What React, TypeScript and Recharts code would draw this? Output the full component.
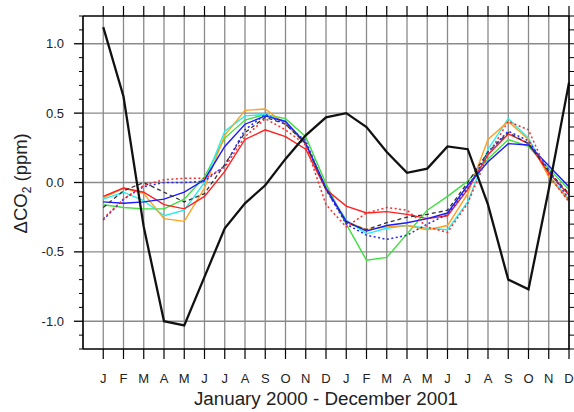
import { CartesianGrid, Line, LineChart, ReferenceLine, XAxis, YAxis } from "recharts";

const MONTHS = ["J", "F", "M", "A", "M", "J", "J", "A", "S", "O", "N", "D", "J", "F", "M", "A", "M", "J", "J", "A", "S", "O", "N", "D"];

const blackThick = [1.12, 0.62, -0.32, -1.0, -1.03, -0.68, -0.33, -0.15, -0.02, 0.17, 0.34, 0.47, 0.5, 0.4, 0.22, 0.07, 0.1, 0.26, 0.24, -0.16, -0.7, -0.77, -0.05, 0.72];
const red = [-0.1, -0.04, -0.07, -0.16, -0.19, -0.1, 0.08, 0.31, 0.38, 0.33, 0.24, -0.05, -0.17, -0.22, -0.21, -0.23, -0.26, -0.24, -0.05, 0.2, 0.35, 0.28, 0.07, -0.09];
const orange = [-0.11, -0.04, -0.08, -0.26, -0.28, -0.04, 0.34, 0.52, 0.53, 0.42, 0.28, -0.04, -0.28, -0.34, -0.32, -0.31, -0.34, -0.31, -0.08, 0.31, 0.44, 0.31, 0.04, -0.13];
const cyan = [-0.12, -0.07, -0.13, -0.24, -0.2, 0.0, 0.37, 0.48, 0.49, 0.44, 0.28, -0.04, -0.27, -0.37, -0.33, -0.31, -0.33, -0.34, -0.14, 0.24, 0.46, 0.32, 0.05, -0.12];
const green = [-0.16, -0.18, -0.19, -0.19, -0.12, 0.04, 0.32, 0.45, 0.49, 0.46, 0.33, -0.01, -0.3, -0.56, -0.54, -0.37, -0.2, -0.1, 0.01, 0.17, 0.31, 0.26, 0.1, -0.05];
const blue = [-0.14, -0.15, -0.14, -0.12, -0.07, 0.02, 0.26, 0.42, 0.48, 0.44, 0.28, -0.04, -0.28, -0.35, -0.31, -0.29, -0.26, -0.22, -0.02, 0.15, 0.28, 0.27, 0.12, -0.03];
const blackDashed = [-0.18, -0.06, 0.0, -0.07, -0.14, -0.08, 0.13, 0.36, 0.47, 0.42, 0.28, -0.05, -0.29, -0.34, -0.29, -0.25, -0.23, -0.2, 0.0, 0.22, 0.36, 0.28, 0.08, -0.08];
const redDotted = [-0.26, -0.12, -0.02, 0.02, 0.03, 0.03, 0.11, 0.33, 0.46, 0.38, 0.27, -0.16, -0.32, -0.22, -0.18, -0.2, -0.32, -0.36, -0.15, 0.2, 0.44, 0.38, 0.05, -0.14];
const blueDashed = [-0.27, -0.12, -0.03, 0.0, 0.0, 0.01, 0.12, 0.38, 0.49, 0.42, 0.3, -0.05, -0.3, -0.38, -0.41, -0.38, -0.3, -0.23, -0.04, 0.22, 0.37, 0.3, 0.09, -0.12];

const yMajor = [-1.0, -0.5, 0.0, 0.5, 1.0];
const yLabels: Record<string, string> = { "-1": "-1.0", "-0.5": "-0.5", "0": "0.0", "0.5": "0.5", "1": "1.0" };
const yMinorTicks = Array.from({ length: 25 }, (_, i) => Math.round((i - 12)) / 10);
const monthTicks = MONTHS.map((_, i) => i);

const data = MONTHS.map((_, i) => ({
  m: i,
  blackThick: blackThick[i],
  red: red[i],
  orange: orange[i],
  cyan: cyan[i],
  green: green[i],
  blue: blue[i],
  blackDashed: blackDashed[i],
  redDotted: redDotted[i],
  blueDashed: blueDashed[i],
}));

const FONT = "'Liberation Sans', Arial, Helvetica, sans-serif";

const isMajor = (v: number) => Math.abs(v * 2 - Math.round(v * 2)) < 1e-6;

function LeftTick(props: any) {
  const { x, y, payload } = props;
  const v = payload.value as number;
  if (isMajor(v)) {
    return (
      <g>
        <line x1={x - 9} x2={x} y1={y} y2={y} stroke="#000" strokeWidth={1.3} />
        <text x={x - 19} y={y} dy="0.355em" textAnchor="end" fontSize={13} fontFamily={FONT} fill="#222">
          {yLabels[String(v)]}
        </text>
      </g>
    );
  }
  return <line x1={x - 4} x2={x} y1={y} y2={y} stroke="#000" strokeWidth={1} />;
}

function RightTick(props: any) {
  const { x, y, payload } = props;
  const len = isMajor(payload.value) ? 9 : 5;
  return <line x1={x} x2={x + len} y1={y} y2={y} stroke="#000" strokeWidth={1} />;
}

function TopTick(props: any) {
  const { x, y } = props;
  return <line x1={x} x2={x} y1={y - 10} y2={y} stroke="#000" strokeWidth={1.2} />;
}

export default function App() {
  return (
    <div style={{ position: "absolute", left: 0, top: 0, width: 574, height: 412, background: "#fff" }}>
      <LineChart width={574} height={412} data={data} margin={{ top: 0, right: 0, bottom: 0, left: 0 }}>
        <CartesianGrid horizontal={false} stroke="#8a8a8a" strokeWidth={1.3} />
        {yMajor.map((v) => (
          <ReferenceLine key={v} y={v} stroke="#8a8a8a" strokeWidth={1.3} />
        ))}
        <XAxis
          dataKey="m"
          type="number"
          domain={[-1, 23]}
          ticks={monthTicks}
          interval={0}
          height={63}
          tickSize={10}
          tickMargin={15}
          tickFormatter={(v: number) => MONTHS[v]}
          tick={{ fontSize: 13, fontFamily: FONT, fill: "#222" }}
          stroke="#000"
          axisLine={{ stroke: "#000", strokeWidth: 1.5 }}
          tickLine={{ stroke: "#000", strokeWidth: 1.2 }}
        />
        <XAxis
          xAxisId="top"
          orientation="top"
          dataKey="m"
          type="number"
          domain={[-1, 23]}
          ticks={monthTicks}
          interval={0}
          height={16}
          tickSize={0}
          tickMargin={0}
          tickLine={false}
          tick={<TopTick />}
          axisLine={{ stroke: "#000", strokeWidth: 1.5 }}
        />
        <YAxis
          type="number"
          domain={[-1.2, 1.2]}
          allowDataOverflow
          ticks={yMinorTicks}
          interval={0}
          width={83}
          tickSize={0}
          tickMargin={0}
          tickLine={false}
          tick={<LeftTick />}
          axisLine={{ stroke: "#000", strokeWidth: 1.5 }}
        />
        <YAxis
          yAxisId="r"
          orientation="right"
          type="number"
          domain={[-1.2, 1.2]}
          allowDataOverflow
          ticks={yMinorTicks}
          interval={0}
          width={5}
          tickSize={0}
          tickMargin={0}
          tickLine={false}
          tick={<RightTick />}
          axisLine={{ stroke: "#000", strokeWidth: 1.5 }}
        />
        <Line dataKey="green" stroke="#3ee03e" strokeWidth={1.4} dot={false} isAnimationActive={false} />
        <Line dataKey="cyan" stroke="#22eeee" strokeWidth={1.4} dot={false} isAnimationActive={false} />
        <Line dataKey="orange" stroke="#ffa020" strokeWidth={1.4} dot={false} isAnimationActive={false} />
        <Line dataKey="red" stroke="#ff2020" strokeWidth={1.4} dot={false} isAnimationActive={false} />
        <Line dataKey="blue" stroke="#1a1aff" strokeWidth={1.4} dot={false} isAnimationActive={false} />
        <Line dataKey="blackDashed" stroke="#333" strokeWidth={1.3} strokeDasharray="4 3" dot={false} isAnimationActive={false} />
        <Line dataKey="blueDashed" stroke="#2a2aff" strokeWidth={1.5} strokeDasharray="2 2.5" dot={false} isAnimationActive={false} />
        <Line dataKey="redDotted" stroke="#ff2a2a" strokeWidth={1.5} strokeDasharray="2 2.5" dot={false} isAnimationActive={false} />
        <Line dataKey="blackThick" stroke="#111" strokeWidth={2.3} dot={false} isAnimationActive={false} />
      </LineChart>
      <div
        style={{
          position: "absolute",
          left: 83,
          width: 486,
          top: 388,
          textAlign: "center",
          fontFamily: FONT,
          fontSize: 18.8,
          color: "#222",
          whiteSpace: "nowrap",
        }}
      >
        January 2000 - December 2001
      </div>
      <div
        style={{
          position: "absolute",
          left: -78,
          width: 200,
          top: 171,
          textAlign: "center",
          fontFamily: FONT,
          fontSize: 18.5,
          color: "#222",
          whiteSpace: "nowrap",
          transform: "rotate(-90deg)",
        }}
      >
        ΔCO<sub style={{ fontSize: 12 }}>2</sub> (ppm)
      </div>
    </div>
  );
}
